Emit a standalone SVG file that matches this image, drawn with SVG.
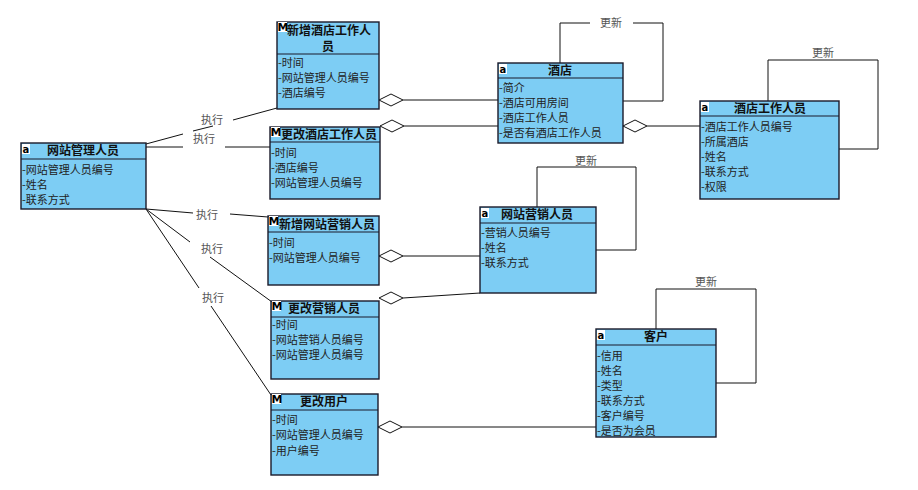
<svg xmlns="http://www.w3.org/2000/svg" width="918" height="490" viewBox="0 0 918 490">
  <style>
    .box { fill: #7dcdf4; stroke: #1a1a2a; stroke-width: 1.4; }
    .sep { stroke: #1a1a2a; stroke-width: 1.2; }
    .title { font-family: "Noto Sans CJK SC", "Noto Sans", sans-serif; font-size: 12px; font-weight: bold; fill: #111; }
    .attr { font-family: "Noto Sans CJK SC", "Noto Sans", sans-serif; font-size: 11px; fill: #222; }
    .icon-bg { fill: #ffffff; }
    .icon { font-family: "DejaVu Sans", "Liberation Sans", sans-serif; font-weight: bold; fill: #000; }
    .line { fill: none; stroke: #111; stroke-width: 1; }
    .diamond { fill: #ffffff; stroke: #111; stroke-width: 1; }
    .label { font-family: "Noto Sans CJK SC", "Noto Sans", sans-serif; font-size: 11px; fill: #555; text-anchor: middle; }
  </style>
  <defs>
    <!-- aggregation diamond, anchored at its left tip -->
    <polygon id="agg" class="diamond" points="0,0 12,-6 24,0 12,6"/>
  </defs>
  <rect width="918" height="490" fill="#ffffff"/>

  <!-- connectors -->
  <g id="connectors">
    <!-- 执行 links from the admin class -->
    <polyline class="line" points="146,144 183,134"/>
    <polyline class="line" points="193,131 213,126"/>
    <polyline class="line" points="233,120 277,108"/>
    <polyline class="line" points="146,147 183,147"/>
    <polyline class="line" points="225,147 270,147"/>
    <polyline class="line" points="146,209 193,213"/>
    <polyline class="line" points="230,214 268,217"/>
    <polyline class="line" points="146,209 190,242"/>
    <polyline class="line" points="210,257 272,302"/>
    <polyline class="line" points="146,209 199,288"/>
    <polyline class="line" points="211,306 271,395"/>
    <text class="label" x="212" y="124">执行</text>
    <text class="label" x="204" y="143">执行</text>
    <text class="label" x="207" y="219">执行</text>
    <text class="label" x="212" y="253">执行</text>
    <text class="label" x="213" y="302">执行</text>

    <!-- aggregations -->
    <line class="line" x1="403" y1="100" x2="498" y2="100"/>
    <use href="#agg" x="379" y="100"/>
    <line class="line" x1="404" y1="126" x2="498" y2="126"/>
    <use href="#agg" x="380" y="126"/>
    <line class="line" x1="647" y1="126" x2="700" y2="126"/>
    <use href="#agg" x="623" y="126"/>
    <line class="line" x1="403" y1="256" x2="480" y2="256"/>
    <use href="#agg" x="379" y="256"/>
    <line class="line" x1="403" y1="298" x2="480" y2="293"/>
    <use href="#agg" x="379" y="298"/>
    <line class="line" x1="402" y1="427" x2="596" y2="427"/>
    <use href="#agg" x="378" y="427"/>

    <!-- 更新 self links -->
    <polyline class="line" points="560,63 560,23 590,23"/>
    <polyline class="line" points="633,23 663,23 663,101 623,101"/>
    <text class="label" x="611" y="27">更新</text>
    <polyline class="line" points="768,101 768,60 878,60 878,149 839,149"/>
    <text class="label" x="823" y="57">更新</text>
    <polyline class="line" points="537,207 537,167 636,167 636,250 596,250"/>
    <text class="label" x="586" y="165">更新</text>
    <polyline class="line" points="656,329 656,289 756,289 756,383 716,383"/>
    <text class="label" x="706" y="286">更新</text>
  </g>

  <!-- 网站管理人员 -->
  <g id="admin">
    <rect class="box" x="21" y="143" width="125" height="66"/>
    <line class="sep" x1="21" y1="159" x2="146" y2="159"/>
    <rect class="icon-bg" x="22" y="144" width="8" height="10"/>
    <text class="icon" x="22.5" y="153" font-size="10">a</text>
    <text class="title" x="83" y="155" text-anchor="middle">网站管理人员</text>
    <text class="attr" x="22" y="174">-网站管理人员编号</text>
    <text class="attr" x="22" y="189">-姓名</text>
    <text class="attr" x="22" y="204">-联系方式</text>
  </g>

  <!-- 新增酒店工作人员 -->
  <g id="addHotelStaff">
    <rect class="box" x="277" y="22" width="102" height="87"/>
    <line class="sep" x1="277" y1="54" x2="379" y2="54"/>
    <rect class="icon-bg" x="278" y="22" width="9" height="10"/>
    <text class="icon" x="277.5" y="31" font-size="11">M</text>
    <text class="title" x="329" y="35" text-anchor="middle" font-size="11.5">新增酒店工作人</text>
    <text class="title" x="328" y="51" text-anchor="middle">员</text>
    <text class="attr" x="278" y="67">-时间</text>
    <text class="attr" x="278" y="82">-网站管理人员编号</text>
    <text class="attr" x="278" y="97">-酒店编号</text>
  </g>

  <!-- 更改酒店工作人员 -->
  <g id="editHotelStaff">
    <rect class="box" x="270" y="127" width="110" height="72"/>
    <line class="sep" x1="270" y1="142" x2="380" y2="142"/>
    <rect class="icon-bg" x="271" y="127" width="9" height="10"/>
    <text class="icon" x="270.5" y="136" font-size="11">M</text>
    <text class="title" x="281" y="139" font-size="11.5">更改酒店工作人员</text>
    <text class="attr" x="271" y="157">-时间</text>
    <text class="attr" x="271" y="172">-酒店编号</text>
    <text class="attr" x="271" y="187">-网站管理人员编号</text>
  </g>

  <!-- 新增网站营销人员 -->
  <g id="addMarketer">
    <rect class="box" x="268" y="216" width="111" height="69"/>
    <line class="sep" x1="268" y1="232" x2="379" y2="232"/>
    <rect class="icon-bg" x="269" y="216" width="9" height="10"/>
    <text class="icon" x="268.5" y="225" font-size="11">M</text>
    <text class="title" x="279" y="229" font-size="11.5">新增网站营销人员</text>
    <text class="attr" x="269" y="247">-时间</text>
    <text class="attr" x="269" y="262">-网站管理人员编号</text>
  </g>

  <!-- 更改营销人员 -->
  <g id="editMarketer">
    <rect class="box" x="271" y="301" width="108" height="78"/>
    <line class="sep" x1="271" y1="317" x2="379" y2="317"/>
    <rect class="icon-bg" x="272" y="301" width="9" height="10"/>
    <text class="icon" x="271.5" y="310" font-size="11">M</text>
    <text class="title" x="324" y="313" text-anchor="middle">更改营销人员</text>
    <text class="attr" x="272" y="329">-时间</text>
    <text class="attr" x="272" y="344">-网站营销人员编号</text>
    <text class="attr" x="272" y="359">-网站管理人员编号</text>
  </g>

  <!-- 更改用户 -->
  <g id="editCustomer">
    <rect class="box" x="271" y="394" width="107" height="81"/>
    <line class="sep" x1="271" y1="410" x2="378" y2="410"/>
    <rect class="icon-bg" x="272" y="394" width="9" height="10"/>
    <text class="icon" x="271.5" y="403" font-size="11">M</text>
    <text class="title" x="324" y="406" text-anchor="middle">更改用户</text>
    <text class="attr" x="272" y="424">-时间</text>
    <text class="attr" x="272" y="439">-网站管理人员编号</text>
    <text class="attr" x="272" y="455">-用户编号</text>
  </g>

  <!-- 酒店 -->
  <g id="hotel">
    <rect class="box" x="498" y="63" width="125" height="80"/>
    <line class="sep" x1="498" y1="78" x2="623" y2="78"/>
    <rect class="icon-bg" x="499" y="64" width="8" height="10"/>
    <text class="icon" x="499.5" y="73" font-size="10">a</text>
    <text class="title" x="560" y="75" text-anchor="middle">酒店</text>
    <text class="attr" x="499" y="92">-简介</text>
    <text class="attr" x="499" y="107">-酒店可用房间</text>
    <text class="attr" x="499" y="122">-酒店工作人员</text>
    <text class="attr" x="499" y="137">-是否有酒店工作人员</text>
  </g>

  <!-- 酒店工作人员 -->
  <g id="hotelStaff">
    <rect class="box" x="700" y="101" width="139" height="98"/>
    <line class="sep" x1="700" y1="116" x2="839" y2="116"/>
    <rect class="icon-bg" x="701" y="102" width="8" height="10"/>
    <text class="icon" x="701.5" y="111" font-size="10">a</text>
    <text class="title" x="770" y="113" text-anchor="middle">酒店工作人员</text>
    <text class="attr" x="701" y="131">-酒店工作人员编号</text>
    <text class="attr" x="701" y="146">-所属酒店</text>
    <text class="attr" x="701" y="161">-姓名</text>
    <text class="attr" x="701" y="176">-联系方式</text>
    <text class="attr" x="701" y="191">-权限</text>
  </g>

  <!-- 网站营销人员 -->
  <g id="marketer">
    <rect class="box" x="480" y="207" width="116" height="86"/>
    <line class="sep" x1="480" y1="223" x2="596" y2="223"/>
    <rect class="icon-bg" x="481" y="208" width="8" height="10"/>
    <text class="icon" x="481.5" y="217" font-size="10">a</text>
    <text class="title" x="537" y="219" text-anchor="middle">网站营销人员</text>
    <text class="attr" x="481" y="237">-营销人员编号</text>
    <text class="attr" x="481" y="252">-姓名</text>
    <text class="attr" x="481" y="267">-联系方式</text>
  </g>

  <!-- 客户 -->
  <g id="customer">
    <rect class="box" x="596" y="329" width="120" height="108"/>
    <line class="sep" x1="596" y1="345" x2="716" y2="345"/>
    <rect class="icon-bg" x="597" y="330" width="8" height="10"/>
    <text class="icon" x="597.5" y="339" font-size="10">a</text>
    <text class="title" x="656" y="341" text-anchor="middle">客户</text>
    <text class="attr" x="597" y="360">-信用</text>
    <text class="attr" x="597" y="375">-姓名</text>
    <text class="attr" x="597" y="390">-类型</text>
    <text class="attr" x="597" y="405">-联系方式</text>
    <text class="attr" x="597" y="420">-客户编号</text>
    <text class="attr" x="597" y="435">-是否为会员</text>
  </g>
</svg>
